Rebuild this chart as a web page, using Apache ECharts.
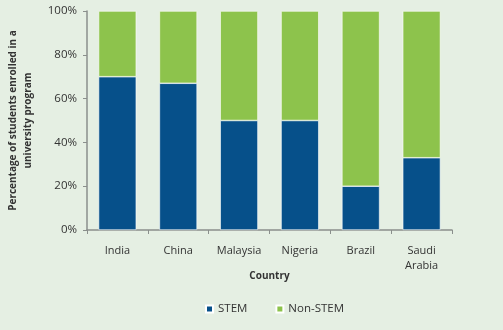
<!DOCTYPE html>
<html><head><meta charset="utf-8">
<script src="https://cdn.jsdelivr.net/npm/echarts@6/dist/echarts.min.js"></script>
<style>html,body{margin:0;padding:0;background:#e5efe3;}#c{width:503px;height:330px;}</style>
</head><body><div id="c"></div>
<script>
const categories = ['India','China','Malaysia','Nigeria','Brazil','Saudi\nArabia'];
const stem = [70, 67, 50, 50, 20, 33];
const nonStem = [30, 33, 50, 50, 80, 67];
const yTicks = [0, 20, 40, 60, 80, 100];

const chart = echarts.init(document.getElementById('c'));
const font = 'Open Sans';
chart.setOption({
  backgroundColor: '#e5efe3',
  animation: false,
  textStyle: {fontFamily: font},
  grid: {left: 87, right: 51, top: 11, bottom: 100, containLabel: false, outerBoundsMode: 'none'},
  legend: {
    top: 303, left: 205, padding: 0, itemGap: 28, itemWidth: 7, itemHeight: 7,
    icon: 'rect',
    textStyle: {fontFamily: font, fontSize: 11.5, color: '#333'},
    data: ['STEM', 'Non-STEM']
  },
  xAxis: {
    type: 'category', data: categories,
    name: 'Country', nameLocation: 'middle', nameGap: 41, nameMoveOverlap: false,
    nameTextStyle: {fontFamily: font, fontSize: 10, fontWeight: 'bold', color: '#333'},
    axisLine: {lineStyle: {color: '#8a8f8c', width: 1.5}},
    axisTick: {show: true, length: 4, lineStyle: {color: '#8a8f8c'}},
    axisLabel: {fontFamily: font, fontSize: 11, color: '#333', margin: 13, lineHeight: 15}
  },
  yAxis: {
    type: 'value', min: 0, max: 100, interval: 20,
    name: 'Percentage of students enrolled in a\nuniversity program',
    nameLocation: 'middle', nameGap: 51, nameMoveOverlap: false, nameRotate: 90,
    nameTextStyle: {fontFamily: font, fontSize: 10, fontWeight: 'bold', color: '#333', lineHeight: 15},
    axisLine: {show: true, lineStyle: {color: '#8a8f8c', width: 1.5}},
    axisTick: {show: true, length: 4, lineStyle: {color: '#8a8f8c'}},
    splitLine: {show: false},
    axisLabel: {fontFamily: font, fontSize: 11.5, color: '#333', margin: 10,
      formatter: v => yTicks.includes(v) ? v + '%' : ''}
  },
  series: [
    {name: 'STEM', type: 'bar', stack: 's', data: stem, barWidth: '62%',
     itemStyle: {color: '#06508a', borderColor: '#ffffff', borderWidth: 0.6}},
    {name: 'Non-STEM', type: 'bar', stack: 's', data: nonStem, barWidth: '62%',
     itemStyle: {color: '#8dc34c', borderColor: '#ffffff', borderWidth: 0.6}}
  ]
});
</script></body></html>
